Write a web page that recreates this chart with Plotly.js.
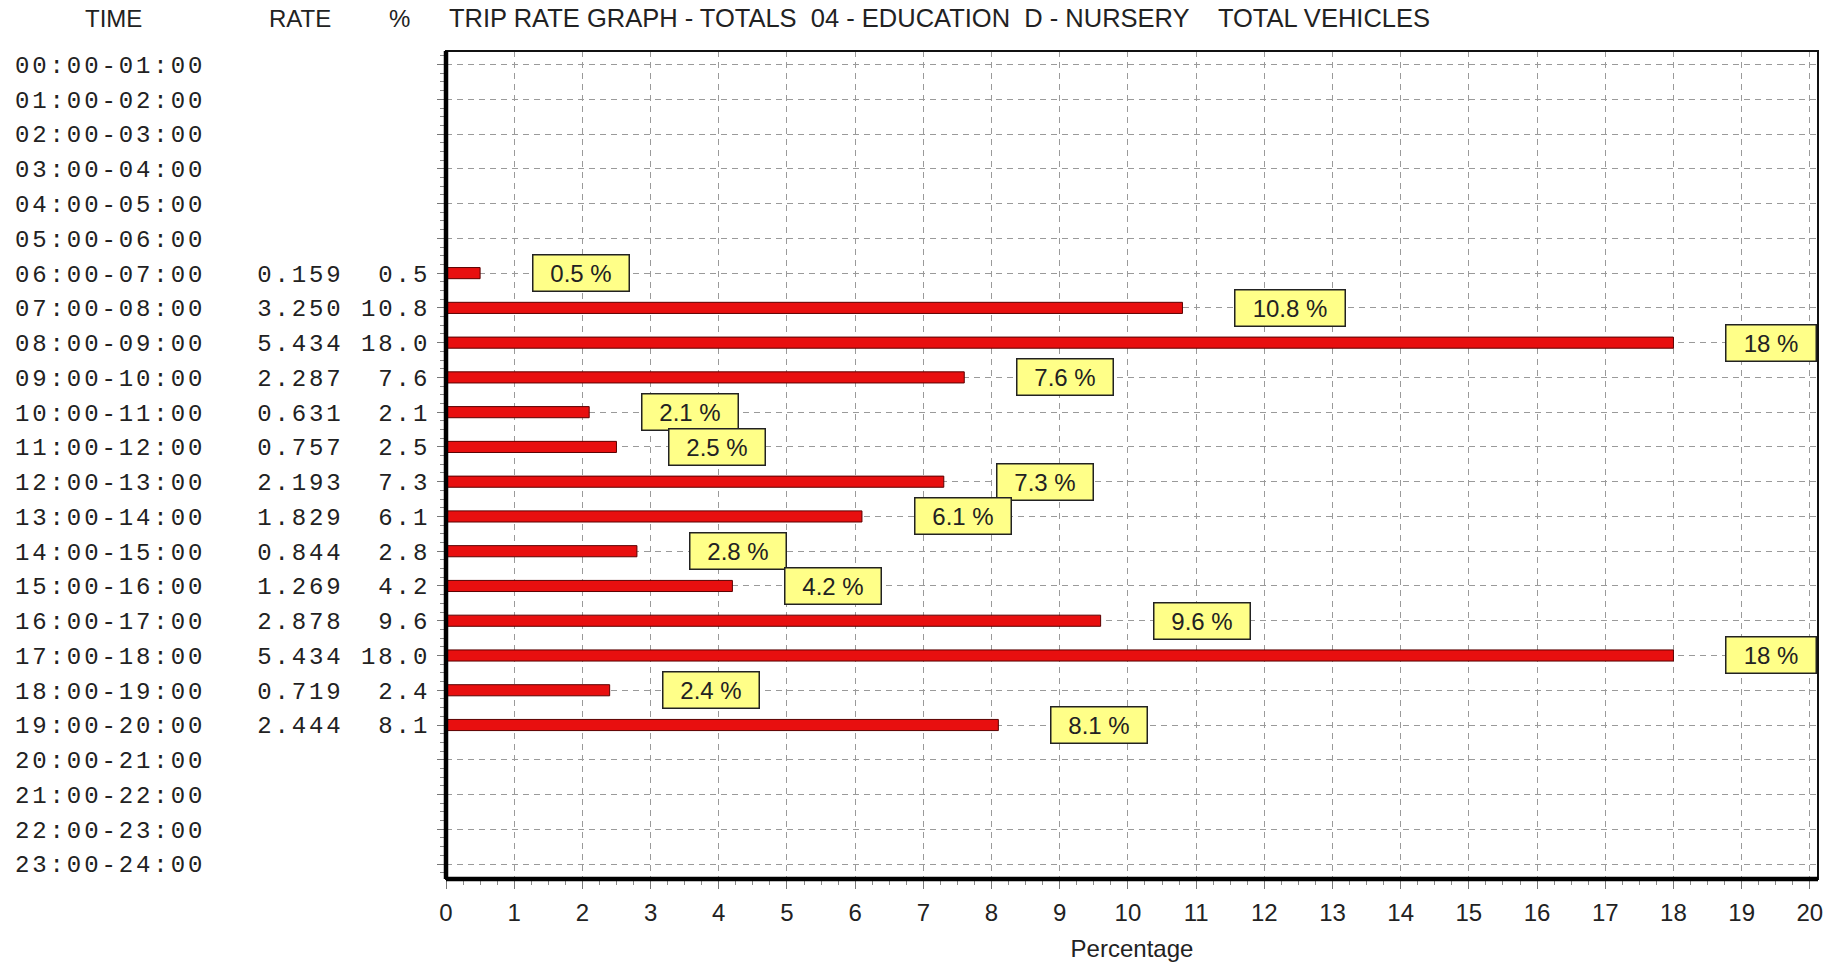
<!DOCTYPE html>
<html>
<head>
<meta charset="utf-8">
<script src="https://cdn.plot.ly/plotly-3.0.1.min.js"></script>
<style>html,body{margin:0;padding:0;background:#fff;}#chart{width:1841px;height:965px;}</style>
</head>
<body>
<div id="chart"></div>
<script>
// ---- data ----
const times = ["00:00-01:00","01:00-02:00","02:00-03:00","03:00-04:00","04:00-05:00","05:00-06:00",
  "06:00-07:00","07:00-08:00","08:00-09:00","09:00-10:00","10:00-11:00","11:00-12:00",
  "12:00-13:00","13:00-14:00","14:00-15:00","15:00-16:00","16:00-17:00","17:00-18:00",
  "18:00-19:00","19:00-20:00","20:00-21:00","21:00-22:00","22:00-23:00","23:00-24:00"];
const rates = [null,null,null,null,null,null,0.159,3.250,5.434,2.287,0.631,0.757,2.193,1.829,0.844,1.269,2.878,5.434,0.719,2.444,null,null,null,null];
const pcts  = [null,null,null,null,null,null,0.5,10.8,18.0,7.6,2.1,2.5,7.3,6.1,2.8,4.2,9.6,18.0,2.4,8.1,null,null,null,null];
const headerTime = "TIME";
const headerRate = "RATE";
const headerPct = "%";
const titleText = "TRIP RATE GRAPH - TOTALS\u00A0\u00A004 - EDUCATION\u00A0\u00A0D - NURSERY\u00A0\u00A0\u00A0\u00A0TOTAL VEHICLES";
const xTitle = "Percentage";

// ---- layout geometry ----
const W = 1841, H = 965;
const L = 446, R = 1818, T = 51, B = 879;
const px = x => (x - L) / (R - L);
const py = y => (B - y) / (B - T);
const NB = "\u00A0";

const idx = times.map((_, i) => i);
const ticktext = times.map((t, i) => {
  let s;
  if (rates[i] === null) {
    s = t + NB.repeat(13);
  } else {
    s = t + NB.repeat(3) + rates[i].toFixed(3).padStart(5, NB) + NB + pcts[i].toFixed(1).padStart(4, NB);
  }
  return '<span style="letter-spacing:2.9px">' + s + '</span>';
});

const barY = [], barX = [];
idx.forEach(i => { if (pcts[i] !== null) { barY.push(i); barX.push(pcts[i]); } });

const labelFont = {family: "Liberation Sans, Arial, sans-serif", size: 24, color: "#222"};
const cnv = document.createElement("canvas").getContext("2d");
cnv.font = "24px 'Liberation Sans'";

const annotations = [];
barY.forEach((yv, k) => {
  const txt = String(Number(barX[k])) + " %";
  const w = Math.round(cnv.measureText(txt).width) + 30;
  annotations.push({
    x: barX[k], y: yv, xref: "x", yref: "y", xanchor: "left", yanchor: "middle",
    xshift: 52, text: txt, showarrow: false, font: labelFont,
    bgcolor: "#ffff88", bordercolor: "#222", borderwidth: 1.5, borderpad: 2,
    width: w, height: 31, align: "center", valign: "middle"
  });
});

const headFont = {family: "Liberation Sans, Arial, sans-serif", size: 24, color: "#222"};
const titleFont = {family: "Liberation Sans, Arial, sans-serif", size: 25.5, color: "#222"};
annotations.push({xref: "paper", yref: "paper", x: px(113), y: py(18), xanchor: "center", yanchor: "middle", text: headerTime, showarrow: false, font: headFont});
annotations.push({xref: "paper", yref: "paper", x: px(300), y: py(18), xanchor: "center", yanchor: "middle", text: headerRate, showarrow: false, font: headFont});
annotations.push({xref: "paper", yref: "paper", x: px(399), y: py(18), xanchor: "center", yanchor: "middle", text: headerPct, showarrow: false, font: headFont});
annotations.push({xref: "paper", yref: "paper", x: px(447), y: py(18), xanchor: "left", yanchor: "middle", text: titleText, showarrow: false, font: titleFont});

const trace = {
  type: "bar", orientation: "h", x: barX, y: barY, width: 0.32,
  marker: {color: "#e80f0f", line: {color: "#5a0000", width: 1}},
  hoverinfo: "none"
};

const layout = {
  width: W, height: H,
  margin: {l: L, r: W - R, t: T, b: H - B, pad: 0},
  paper_bgcolor: "#fff", plot_bgcolor: "#fff",
  showlegend: false,
  xaxis: {
    range: [0, 20.12], dtick: 1, tick0: 0, showgrid: true, gridcolor: "#9a9a9a", gridwidth: 1, griddash: "6px,5px",
    zeroline: false, showline: false, ticks: "outside", ticklen: 9, tickcolor: "#777", tickwidth: 1,
    ticklabelstandoff: 3,
    tickfont: {family: "Liberation Sans, Arial, sans-serif", size: 24, color: "#222"},
    minor: {dtick: 0.25, ticks: "outside", ticklen: 5, tickcolor: "#888", showgrid: false},
    title: {text: xTitle, font: {family: "Liberation Sans, Arial, sans-serif", size: 24, color: "#222"}, standoff: 15},
    fixedrange: true
  },
  yaxis: {
    range: [23.43, -0.39], tickmode: "array", tickvals: idx, ticktext: ticktext,
    showgrid: true, gridcolor: "#9a9a9a", gridwidth: 1, griddash: "6px,5px",
    zeroline: false, showline: false, ticks: "outside", ticklen: 8, tickcolor: "#777", tickwidth: 1,
    ticklabelstandoff: 2,
    tickfont: {family: "Liberation Mono, monospace", size: 24, color: "#222"},
    minor: {dtick: 0.25, ticks: "outside", ticklen: 5, tickcolor: "#888", showgrid: false},
    fixedrange: true
  },
  shapes: [
    {type: "rect", xref: "paper", yref: "paper", x0: 0, x1: 1, y0: 0, y1: 1, line: {color: "#111", width: 2}},
    {type: "line", xref: "paper", yref: "paper", x0: 0, x1: 0, y0: 0, y1: 1, line: {color: "#000", width: 4.5}},
    {type: "line", xref: "paper", yref: "paper", x0: 0, x1: 1, y0: 0, y1: 0, line: {color: "#000", width: 4.5}}
  ],
  annotations: annotations
};

Plotly.newPlot("chart", [trace], layout, {displayModeBar: false, staticPlot: true});
</script>
</body>
</html>
